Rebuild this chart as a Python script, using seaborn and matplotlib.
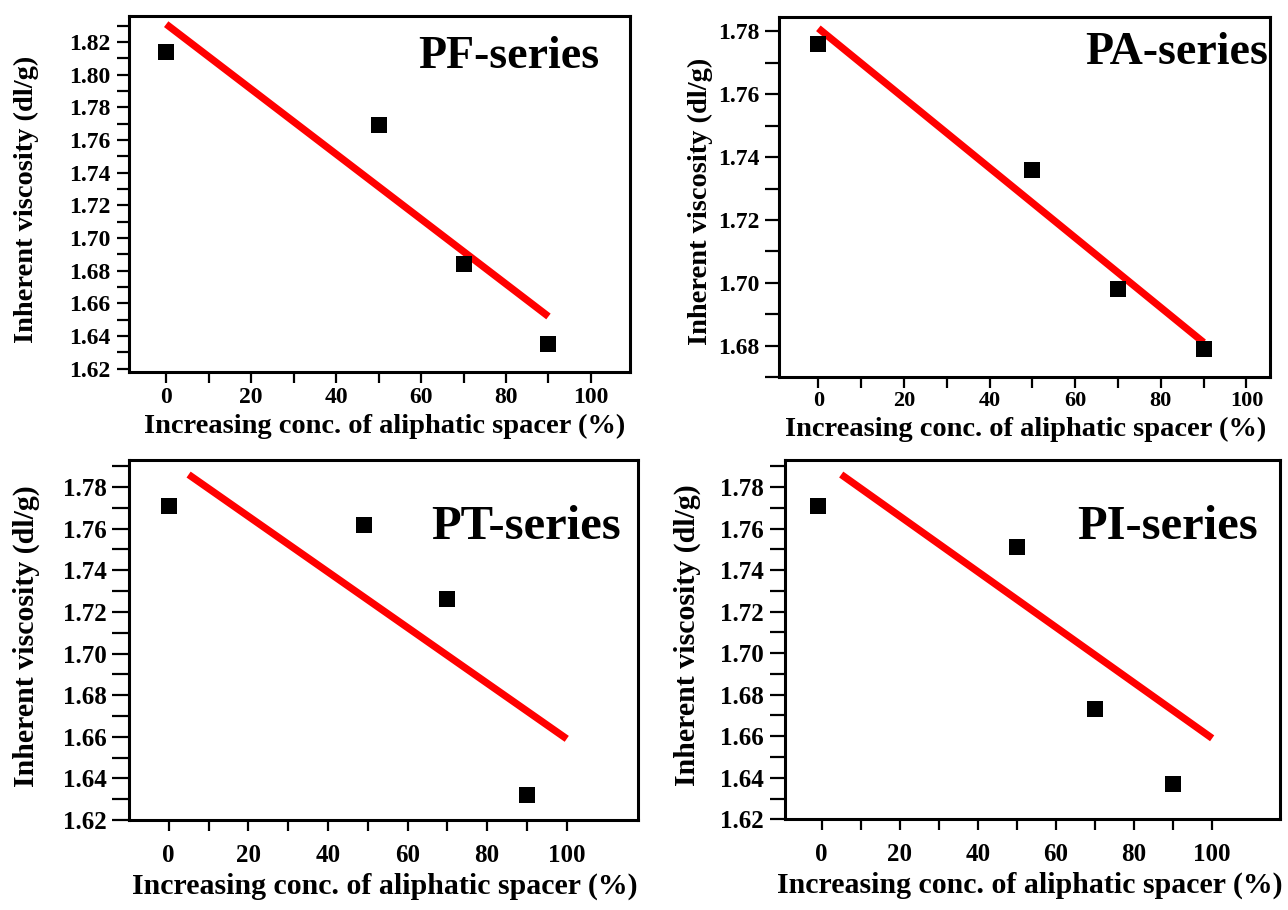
import matplotlib
matplotlib.use("Agg")
import matplotlib.pyplot as plt
import seaborn as sns
import numpy as np

# ---------------- data ----------------
x_pf = [0, 50, 70, 90]
y_pf = [1.814, 1.769, 1.684, 1.635]
fit_x_pf = [0, 90]
fit_y_pf = [1.831, 1.652]

x_pa = [0, 50, 70, 90]
y_pa = [1.776, 1.736, 1.698, 1.679]
fit_x_pa = [0, 90]
fit_y_pa = [1.781, 1.681]

x_pt = [0, 49, 70, 90]
y_pt = [1.771, 1.762, 1.726, 1.632]
fit_x_pt = [5, 100]
fit_y_pt = [1.786, 1.659]

x_pi = [-1, 50, 70, 90]
y_pi = [1.771, 1.751, 1.673, 1.637]
fit_x_pi = [5, 100]
fit_y_pi = [1.786, 1.659]

titles = ["PF-series", "PA-series", "PT-series", "PI-series"]
xlabel_text = "Increasing conc. of aliphatic spacer (%)"
ylabel_text = "Inherent viscosity (dl/g)"
x_major = [0, 20, 40, 60, 80, 100]
x_minor = [10, 30, 50, 70, 90]

# ---------------- styling ----------------
sns.set_theme(style="ticks")
plt.rcParams["font.family"] = ["Liberation Serif", "DejaVu Serif"]
plt.rcParams["font.weight"] = "bold"
plt.rcParams["axes.labelweight"] = "bold"
for key in ["text.color", "axes.labelcolor", "xtick.color", "ytick.color",
            "xtick.labelcolor", "ytick.labelcolor", "axes.edgecolor"]:
    plt.rcParams[key] = "black"

W, H = 1288, 910
fig = plt.figure(figsize=(W / 100, H / 100), dpi=100)


def px_rect(left, top, right, bottom):
    return [left / W, 1 - bottom / H, (right - left) / W, (bottom - top) / H]


panels = [
    dict(x=x_pf, y=y_pf, fx=fit_x_pf, fy=fit_y_pf, title=titles[0],
         rect=px_rect(128.6, 16, 630, 372), xlim=(-8.85, 109.2), ylim=(1.618, 1.836),
         ymaj=np.arange(1.62, 1.8201, 0.02), ymin=np.arange(1.63, 1.8301, 0.02),
         tpos=(0.759, 0.885), tsize=33, lsize=20.5, ticksize=17, xticksize=17,
         ylc=(-0.178, 0.485), xlc=(0.511, -0.152), xpad=3, ylen=9),
    dict(x=x_pa, y=y_pa, fx=fit_x_pa, fy=fit_y_pa, title=titles[1],
         rect=px_rect(779, 17, 1270, 377), xlim=(-9.2, 105.5), ylim=(1.6709, 1.7846),
         ymaj=np.arange(1.68, 1.7801, 0.02), ymin=np.arange(1.67, 1.7801, 0.02),
         tpos=(0.809, 0.90), tsize=33, lsize=20.5, ticksize=17, xticksize=16,
         ylc=(-0.134, 0.489), xlc=(0.503, -0.147), xpad=2, ylen=10),
    dict(x=x_pt, y=y_pt, fx=fit_x_pt, fy=fit_y_pt, title=titles[2],
         rect=px_rect(129.3, 460, 638, 820), xlim=(-9.9, 117.9), ylim=(1.62, 1.793),
         ymaj=np.arange(1.62, 1.7801, 0.02), ymin=np.arange(1.63, 1.7901, 0.02),
         tpos=(0.780, 0.814), tsize=35, lsize=21.5, ticksize=18, xticksize=18,
         ylc=(-0.176, 0.512), xlc=(0.503, -0.183), xpad=9, ylen=12),
    dict(x=x_pi, y=y_pi, fx=fit_x_pi, fy=fit_y_pi, title=titles[3],
         rect=px_rect(784.6, 460, 1279.7, 819.3), xlim=(-9.5, 117.3), ylim=(1.62, 1.793),
         ymaj=np.arange(1.62, 1.7801, 0.02), ymin=np.arange(1.63, 1.7901, 0.02),
         tpos=(0.7745, 0.814), tsize=35, lsize=21.5, ticksize=18, xticksize=18,
         ylc=(-0.169, 0.512), xlc=(0.496, -0.183), xpad=9, ylen=11),
]

for p in panels:
    ax = fig.add_axes(p["rect"])
    sns.lineplot(x=p["fx"], y=p["fy"], color="#ff0000", linewidth=5.2,
                 ax=ax, zorder=2, solid_capstyle="butt")
    sns.scatterplot(x=p["x"], y=p["y"], marker="s", s=135, color="black",
                    edgecolor="black", linewidth=0, ax=ax, zorder=3)
    ax.set_xlim(*p["xlim"])
    ax.set_ylim(*p["ylim"])
    ax.set_xticks(x_major)
    ax.set_xticks(x_minor, minor=True)
    ax.set_yticks(p["ymaj"])
    ax.set_yticks(p["ymin"], minor=True)
    ax.set_yticklabels([f"{v:.2f}" for v in p["ymaj"]])
    ax.set_xticklabels([str(v) for v in x_major])
    for side in ["top", "right", "bottom", "left"]:
        ax.spines[side].set_visible(True)
        ax.spines[side].set_linewidth(2.2)
        ax.spines[side].set_color("black")
    ax.tick_params(axis="x", which="both", direction="out", length=8, width=1.6,
                   color="black", labelcolor="black", labelsize=p["xticksize"], pad=p["xpad"])
    ax.tick_params(axis="y", which="both", direction="out", length=p["ylen"], width=1.6,
                   color="black", labelcolor="black", labelsize=p["ticksize"], pad=4)
    for lab in ax.get_xticklabels() + ax.get_yticklabels():
        lab.set_fontweight("bold")
    ax.set_xlabel(xlabel_text, fontsize=p["lsize"], fontweight="bold", va="center",
                  color="black")
    ax.set_ylabel(ylabel_text, fontsize=p["lsize"], fontweight="bold", color="black")
    ax.xaxis.set_label_coords(*p["xlc"])
    ax.yaxis.set_label_coords(*p["ylc"])
    ax.text(p["tpos"][0], p["tpos"][1], p["title"], transform=ax.transAxes,
            ha="center", va="center", fontsize=p["tsize"], fontweight="bold",
            color="black")
    ax.set_facecolor("white")
    ax.grid(False)

fig.savefig("out.png", dpi=100, facecolor="white")
